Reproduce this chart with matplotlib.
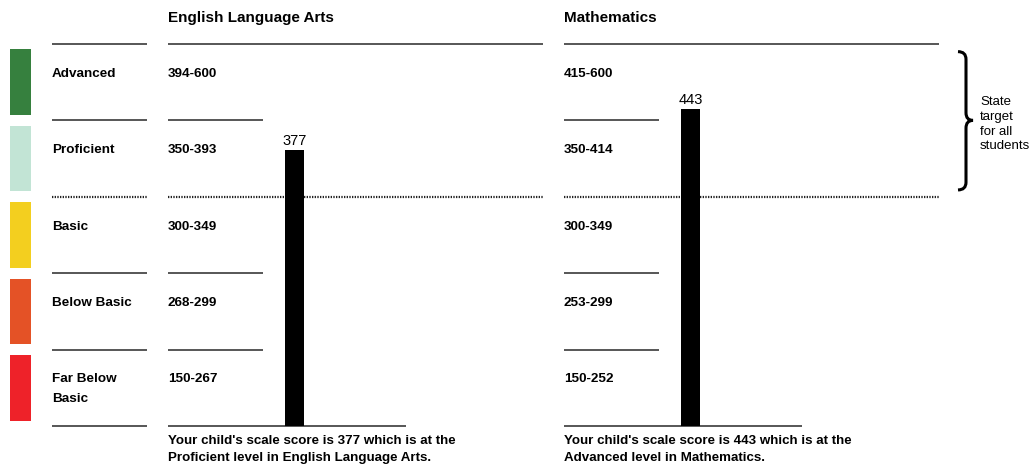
import numpy as np
import matplotlib
matplotlib.use("Agg")
import matplotlib.pyplot as plt
from matplotlib.path import Path
from matplotlib.patches import PathPatch

plt.rcParams['font.family'] = ['Liberation Sans', 'DejaVu Sans']

# performance levels, lowest first
levels = ["Far Below\nBasic", "Below Basic", "Basic", "Proficient", "Advanced"]
level_colors = ["#ee2229", "#e45226", "#f3cf1f", "#c2e4d5", "#36803e"]

subjects = ["English Language Arts", "Mathematics"]
ranges = [["150-267", "268-299", "300-349", "350-393", "394-600"],
          ["150-252", "253-299", "300-349", "350-414", "415-600"]]
cuts = [[150, 268, 300, 350, 394, 601],
        [150, 253, 300, 350, 415, 601]]
scores = [377, 443]
captions = ["Your child's scale score is 377 which is at the\nProficient level in English Language Arts.",
            "Your child's scale score is 443 which is at the\nAdvanced level in Mathematics."]

W, H = 1034, 466
fig = plt.figure(figsize=(W / 100, H / 100), dpi=100)
top_px, bot_px = 44, 426
ax = fig.add_axes([0, 1 - bot_px / H, 1, (bot_px - top_px) / H])
ax.set_xlim(0, W)
ax.set_ylim(0, 5)
ax.axis("off")
nb = len(levels)

line_col = "#3a3a3a"

def hline(y, x0, x1, dotted=False):
    if dotted:
        ax.plot([x0, x1], [y, y], color="#222222", lw=1.6, ls=(0, (0.6, 0.6)),
                clip_on=False, solid_capstyle="butt")
    else:
        ax.plot([x0, x1], [y, y], color=line_col, lw=1.2, clip_on=False,
                solid_capstyle="butt")

base = 0.57  # baseline of first text line inside a band
line_gap = 20 / 76.4  # one text line in band units

# left column: colour swatches, level names, separators
ax.bar(np.full(nb, 20.5), 0.86, width=21, bottom=np.arange(nb) + 0.07,
       color=level_colors)
for i, name in enumerate(levels):
    extra = name.count("\n")
    ax.text(52, i + base - extra * line_gap, name, fontsize=9.7, fontweight="bold",
            va="baseline", ha="left", linespacing=1.95)
for b in range(nb + 1):
    hline(b, 52, 147, dotted=(b == 3))

# subject panels
panel_x = [168, 564]
for s in range(2):
    x0 = panel_x[s]
    fig.text(x0 / W, 1 - 18 / H, subjects[s], fontsize=11, fontweight="bold",
             va="center", ha="left")
    for i, r in enumerate(ranges[s]):
        ax.text(x0, i + base, r, fontsize=9.7, fontweight="bold", va="baseline",
                ha="left")
    for b in range(nb + 1):
        if b in (3, 5):
            hline(b, x0, x0 + 375, dotted=(b == 3))
        elif b == 0:
            hline(b, x0, x0 + 238)
        else:
            hline(b, x0, x0 + 95)
    pos = np.interp(scores[s], cuts[s], np.arange(nb + 1))
    bx = x0 + 126.5
    ax.bar(bx, pos, width=19, color="black", zorder=3)
    ax.text(bx, pos + 0.03, str(scores[s]), fontsize=10.5, ha="center", va="bottom")
    fig.text(x0 / W, 1 - 449.5 / H, captions[s], fontsize=9.6, fontweight="bold",
             va="center", ha="left", linespacing=1.62)

# brace for the state target (proficient and above)
y_lo, y_hi, y_mid = 3.09, 4.90, 4.0
xa, xb, xt = 958, 966, 973
d = 0.1
verts = [(xa, y_hi),
         (xb, y_hi), (xb, y_hi - d),
         (xb, y_mid + d),
         (xb, y_mid), (xt, y_mid),
         (xb, y_mid), (xb, y_mid - d),
         (xb, y_lo + d),
         (xb, y_lo), (xa, y_lo)]
codes = [Path.MOVETO,
         Path.CURVE3, Path.CURVE3,
         Path.LINETO,
         Path.CURVE3, Path.CURVE3,
         Path.CURVE3, Path.CURVE3,
         Path.LINETO,
         Path.CURVE3, Path.CURVE3]
ax.add_patch(PathPatch(Path(verts, codes), fill=False, lw=2.2, color="black",
                       clip_on=False))
ax.text(980, y_mid - 0.05, "State\ntarget\nfor all\nstudents", fontsize=9.5,
        va="center", ha="left", linespacing=1.3)

fig.savefig("out.png", dpi=100, facecolor="white")
